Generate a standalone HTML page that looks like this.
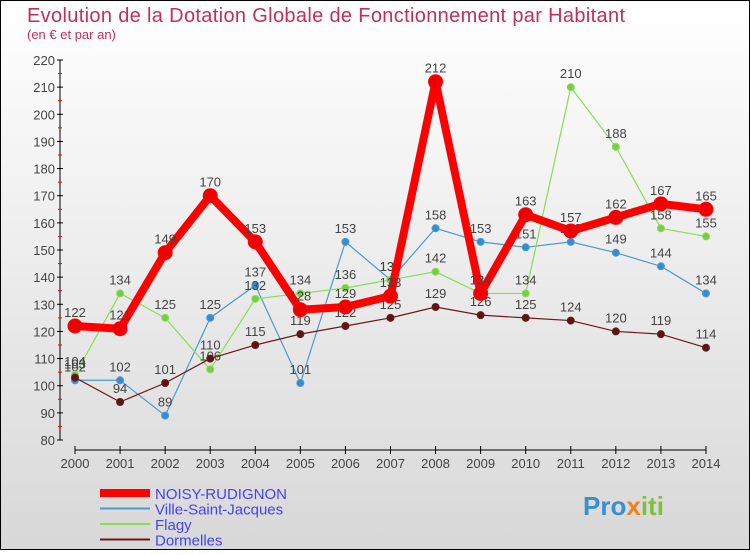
<!DOCTYPE html>
<html><head><meta charset="utf-8"><style>
body{margin:0;width:750px;height:550px;overflow:hidden;font-family:"Liberation Sans",sans-serif}
</style></head><body>
<svg width="750" height="550" xmlns="http://www.w3.org/2000/svg">
<defs><linearGradient id="bg" x1="0" y1="0" x2="0" y2="1"><stop offset="0" stop-color="#ffffff"/><stop offset="1" stop-color="#d8d8d8"/></linearGradient></defs>
<rect x="0.5" y="0.5" width="749" height="549" fill="url(#bg)" stroke="#000"/>
<text x="27" y="22" font-size="20" fill="#c0305a" textLength="598" lengthAdjust="spacing">Evolution de la Dotation Globale de Fonctionnement par Habitant</text>
<text x="27" y="39" font-size="13" fill="#c0305a">(en € et par an)</text>
<g id="axes"></g><g id="series"></g><g id="legend"></g>
<text x="583" y="515" font-size="26" font-weight="bold" fill="#3a8fd0">Pro<tspan fill="#f08020">x</tspan><tspan fill="#80c040">iti</tspan></text>
</svg>
<script>
const years=[2000,2001,2002,2003,2004,2005,2006,2007,2008,2009,2010,2011,2012,2013,2014];
const noisy=[122,121,149,170,153,128,129,133,212,134,163,157,162,167,165];
const ville=[102,102,89,125,137,101,153,139,158,153,151,153,149,144,134];
const flagy=[104,134,125,106,132,134,136,139,142,134,134,210,188,158,155];
const dormelles=[103,94,101,110,115,119,122,125,129,126,125,124,120,119,114];
const yTicks=[80,90,100,110,120,130,140,150,160,170,180,190,200,210,220];
const NS="http://www.w3.org/2000/svg";
const X=i=>75+i*45.07, Y=v=>440-(v-80)*380/140;
function mk(t,a,p){const e=document.createElementNS(NS,t);for(const k in a)e.setAttribute(k,a[k]);p.appendChild(e);return e;}
const ax=document.getElementById('axes');
let l=mk('line',{x1:60,y1:60,x2:60,y2:440,stroke:'#000'},ax);


l=mk('line',{x1:75,y1:450,x2:706,y2:450,stroke:'#000'},ax);


yTicks.forEach((v,i)=>{
 mk('line',{x1:57,y1:Y(v),x2:63,y2:Y(v),stroke:'#000'},ax);
 if(i<yTicks.length-1) mk('line',{x1:58,y1:Y(v+5),x2:62,y2:Y(v+5),stroke:'#f00'},ax);
 const t=mk('text',{x:55,y:Y(v)+5,'text-anchor':'end','font-size':13,fill:'#444'},ax);t.textContent=v;
 
 
});
years.forEach((yr,i)=>{
 mk('line',{x1:X(i),y1:446,x2:X(i),y2:454,stroke:'#000'},ax);
 const t=mk('text',{x:X(i),y:468,'text-anchor':'middle','font-size':13,fill:'#444'},ax);t.textContent=yr;
 
 
});
const sg=document.getElementById('series');
function series(d,color,dot,w,r,name){
 const g=mk('g',{},sg);
 
 
 mk('polyline',{points:d.map((v,i)=>X(i)+','+Y(v)).join(' '),fill:'none',stroke:color,'stroke-width':w,'stroke-linejoin':'round'},g);
 d.forEach((v,i)=>{
  const c=mk('circle',{cx:X(i),cy:Y(v),r:r,fill:dot,stroke:color,'stroke-width':1},g);
  
  
  const t=mk('text',{x:X(i),y:Y(v)-9,'text-anchor':'middle','font-size':13,fill:'#444'},g);t.textContent=v;
 });
}
series(ville,'#4a9ad0','#3a8ad0',1.2,3.5,'ville-saint-jacques');
series(flagy,'#88dd55','#77cc44',1.2,3.5,'flagy');
series(dormelles,'#6b1a1a','#5a1515',1.2,3.5,'dormelles');
series(noisy,'#ff0000','#ee0000',8,7,'noisy-rudignon');
const lg=document.getElementById('legend');
const items=[['NOISY-RUDIGNON','#ff0000',8],['Ville-Saint-Jacques','#4a9ad0',2],['Flagy','#88dd55',2],['Dormelles','#6b1a1a',2]];
items.forEach((it,i)=>{
 const y=493+i*15.5;
 const g=mk('g',{},lg);
 
 
 mk('line',{x1:100,y1:y,x2:150,y2:y,stroke:it[1],'stroke-width':it[2]},g);
 const t=mk('text',{x:155,y:y+6,'font-size':15,fill:'#4444ee'},g);t.textContent=it[0];
});
</script>
</body></html>
